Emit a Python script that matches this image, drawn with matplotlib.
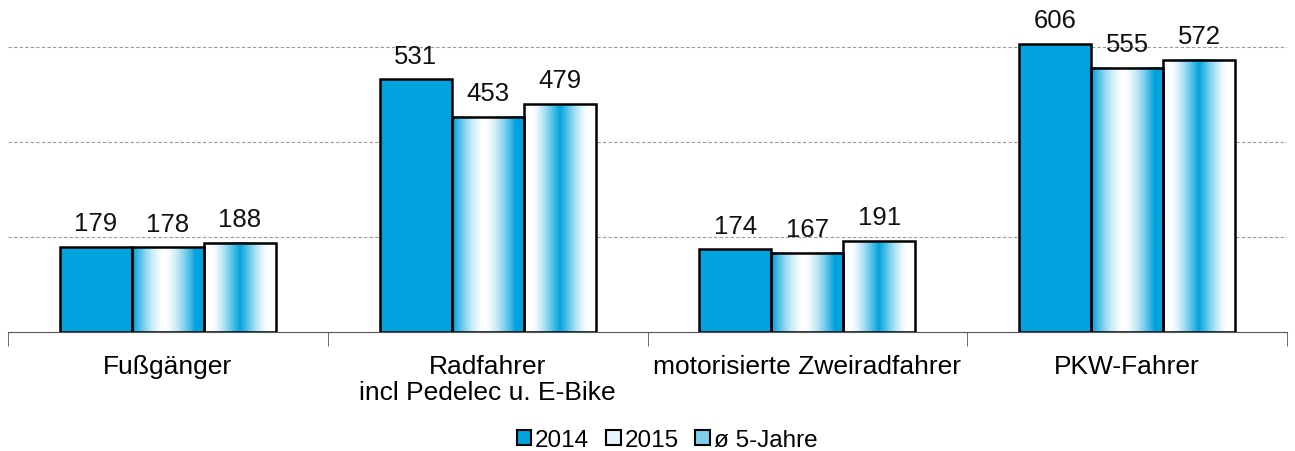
import matplotlib.pyplot as plt
import numpy as np
from matplotlib.colors import LinearSegmentedColormap
from matplotlib.patches import Rectangle

plt.rcParams['font.family'] = ['Liberation Sans', 'DejaVu Sans']

categories = ["Fußgänger", "Radfahrer\nincl Pedelec u. E-Bike",
              "motorisierte Zweiradfahrer", "PKW-Fahrer"]
series_names = ["2014", "2015", "ø 5-Jahre"]
values_2014 = [179, 531, 174, 606]
values_2015 = [178, 453, 167, 555]
values_avg = [188, 479, 191, 572]

blue = "#00A3DD"
cmap = LinearSegmentedColormap.from_list("wb", ["#FFFFFF", blue])

# horizontal colour profiles for the two gradient fills
xs = np.linspace(0, 1, 200)
profile_edges = np.clip(np.abs(xs - 0.45) * 2.3, 0, 1) ** 1.6   # blue edges, white middle
profile_center = np.clip(1 - np.abs(xs - 0.5) * 2.6, 0, 1) ** 1.3  # white edges, blue middle

fig = plt.figure(figsize=(12.95, 4.52), dpi=100)
ax = fig.add_axes([8 / 1295, 119 / 452, 1279 / 1295, 333 / 452])

n = len(categories)
bar_w = 0.225
offsets = [-bar_w, 0, bar_w]
all_series = [values_2014, values_2015, values_avg]

for s, vals in enumerate(all_series):
    for i, v in enumerate(vals):
        x0 = i + offsets[s] - bar_w / 2
        if s == 0:
            ax.add_patch(Rectangle((x0, 0), bar_w, v, facecolor=blue,
                                   edgecolor="black", linewidth=1.8, zorder=3))
        else:
            prof = profile_edges if s == 1 else profile_center
            ax.imshow(prof[np.newaxis, :], cmap=cmap, vmin=0, vmax=1,
                      extent=(x0, x0 + bar_w, 0, v), aspect="auto", zorder=2,
                      interpolation="bilinear")
            ax.add_patch(Rectangle((x0, 0), bar_w, v, facecolor="none",
                                   edgecolor="black", linewidth=1.8, zorder=3))
        ax.annotate(str(v), (i + offsets[s], v), xytext=(0, 12),
                    textcoords="offset points", ha="center", va="baseline",
                    fontsize=18.5, color="#111111")

ax.set_xlim(-0.5, n - 0.5)
ax.set_ylim(0, 700)
for y in [200, 400, 600]:
    ax.axhline(y, color="#999999", linestyle=(0, (3, 2)), linewidth=0.8, zorder=1)

for side in ["top", "right", "left"]:
    ax.spines[side].set_visible(False)
ax.spines["bottom"].set_color("#555555")
ax.set_yticks([])
ax.set_xticks(range(n))
ax.set_xticklabels(categories, fontsize=19, linespacing=1.1)
ax.tick_params(axis="x", which="major", length=0, pad=16)
ax.set_xticks(np.arange(-0.5, n, 1.0), minor=True)
ax.tick_params(axis="x", which="minor", length=10, color="#555555")

handles = [
    Rectangle((0, 0), 1, 1, facecolor=blue, edgecolor="black", linewidth=1.5),
    Rectangle((0, 0), 1, 1, facecolor="#E6F4FB", edgecolor="black", linewidth=1.5),
    Rectangle((0, 0), 1, 1, facecolor="#7FCDEB", edgecolor="black", linewidth=1.5),
]
fig.legend(handles, series_names, loc="center", bbox_to_anchor=(667 / 1295, 11 / 452),
           ncol=3, frameon=False, fontsize=17.5, handlelength=0.6, handleheight=0.6,
           handletextpad=0.15, columnspacing=0.7, borderaxespad=0)

fig.savefig("out.png", dpi=100)
